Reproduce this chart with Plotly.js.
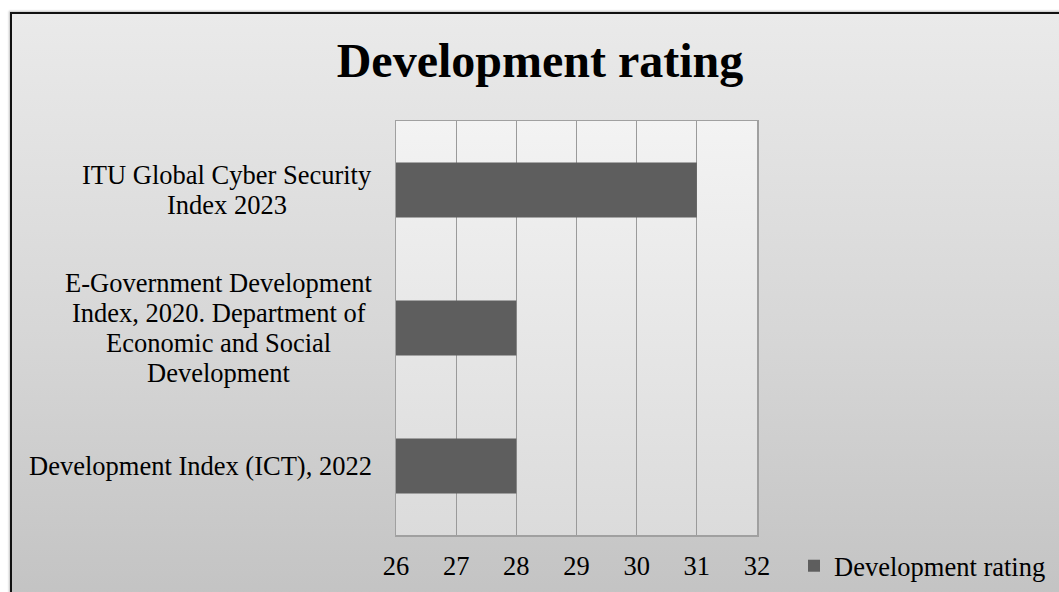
<!DOCTYPE html>
<html>
<head>
<meta charset="utf-8">
<script src="https://cdn.plot.ly/plotly-3.0.1.min.js"></script>
<style>
  html, body { margin: 0; padding: 0; background: #ffffff; overflow: hidden; }
  #frame {
    position: absolute; left: 10px; top: 12px; width: 1070px; height: 600px;
    border-left: 2px solid #111; border-top: 2px solid #111;
    background: linear-gradient(to bottom, #eaeaea 0%, #d6d6d6 55%, #c2c2c2 100%);
    box-shadow: -1px -1px 2px rgba(0,0,0,0.25);
  }
  #chart { position: absolute; left: 0; top: 0; width: 1059px; height: 592px; }
</style>
</head>
<body>
<div id="frame"></div>
<div id="chart"></div>
<script>
// ---- data ----
const categories = [
  "ITU Global Cyber Security<br>Index 2023",
  "E-Government Development<br>Index, 2020. Department of<br>Economic and Social<br>Development",
  "Development Index (ICT), 2022"
];
const values = [31, 28, 28];
const seriesName = "Development rating";
const chartTitle = "Development rating";
const xTicks = [26, 27, 28, 29, 30, 31, 32];

// ---- style ----
const FONT = "Liberation Serif, Times New Roman, serif";
const FS = 26.5;
const plotLeft = 396, plotRight = 757, plotTop = 121, plotBottom = 535;
const W = 1059, H = 592;

// measure text for centred multi-line labels
const cv = document.createElement("canvas").getContext("2d");
cv.font = FS + "px 'Liberation Serif'";
const labelRight = 372;
const lineGap = 30;
const annotations = [];
categories.forEach((cat, i) => {
  const lines = cat.split("<br>");
  const maxW = Math.max(...lines.map(l => cv.measureText(l).width));
  const cx = labelRight - maxW / 2;
  lines.forEach((ln, k) => {
    annotations.push({
      xref: "paper", x: 0, xanchor: "center",
      xshift: cx - plotLeft,
      yref: "y", y: i, yanchor: "middle",
      yshift: ((lines.length - 1) / 2 - k) * lineGap,
      text: ln, showarrow: false,
      font: { family: FONT, size: FS, color: "#000" }
    });
  });
});

const gradSvg = "<svg xmlns='http://www.w3.org/2000/svg' width='10' height='100' viewBox='0 0 10 100' preserveAspectRatio='none'>" +
  "<defs><linearGradient id='g' x1='0' y1='0' x2='0' y2='1'>" +
  "<stop offset='0' stop-color='#f3f3f3'/><stop offset='1' stop-color='#dbdbdb'/></linearGradient></defs>" +
  "<rect x='0' y='0' width='10' height='100' fill='url(#g)'/></svg>";
const gradUri = "data:image/svg+xml;charset=utf-8," + encodeURIComponent(gradSvg);

const trace = {
  type: "bar",
  orientation: "h",
  x: values,
  y: categories.map((c, i) => i),
  name: seriesName,
  width: 0.4,
  marker: { color: "#5e5e5e", line: { width: 0 } },
  hoverinfo: "x"
};

const layout = {
  width: W, height: H,
  paper_bgcolor: "rgba(0,0,0,0)",
  plot_bgcolor: "rgba(0,0,0,0)",
  margin: { l: plotLeft, r: W - plotRight, t: plotTop, b: H - plotBottom, pad: 0, autoexpand: false },
  title: {
    text: "<b>" + chartTitle + "</b>",
    font: { family: FONT, size: 48, color: "#000" },
    xref: "container", x: 540 / W, xanchor: "center",
    yref: "container", y: 1 - 60 / H, yanchor: "middle"
  },
  xaxis: {
    range: [26, 32],
    tickvals: xTicks,
    ticktext: xTicks.map(String),
    ticks: "",
    showgrid: true, gridcolor: "#9a9a9a", gridwidth: 1,
    zeroline: false,
    showline: true, linecolor: "#a0a0a0", linewidth: 1.5, mirror: true,
    tickfont: { family: FONT, size: FS, color: "#000" },
    ticklabelstandoff: 7,
    automargin: false,
    fixedrange: true
  },
  yaxis: {
    type: "linear",
    range: [categories.length - 0.5, -0.5],
    showticklabels: false,
    ticks: "",
    showgrid: false, zeroline: false,
    showline: true, linecolor: "#a0a0a0", linewidth: 1.5, mirror: true,
    automargin: false,
    fixedrange: true
  },
  showlegend: true,
  legend: {
    orientation: "h",
    xref: "container", yref: "container",
    x: 794 / W, xanchor: "left",
    y: 1 - 566 / H, yanchor: "middle",
    bgcolor: "rgba(0,0,0,0)",
    font: { family: FONT, size: FS, color: "#000" }
  },
  images: [{
    source: gradUri, xref: "paper", yref: "paper",
    x: 0, y: 1, sizex: 1, sizey: 1, xanchor: "left", yanchor: "top",
    sizing: "stretch", layer: "below"
  }],
  annotations: annotations
};

Plotly.newPlot("chart", [trace], layout, { displayModeBar: false, staticPlot: true });
</script>
</body>
</html>
